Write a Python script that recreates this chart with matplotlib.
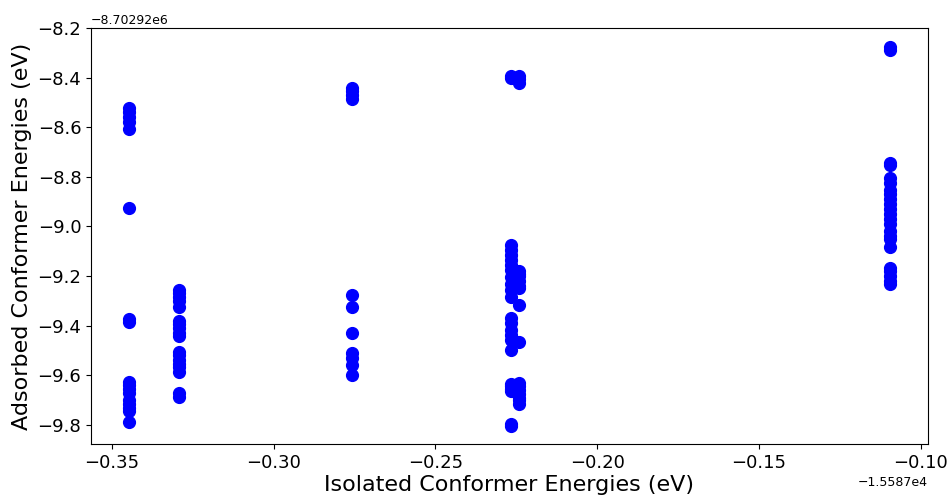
import numpy as np
import matplotlib.pyplot as plt

# isolated energy offset and adsorbed energy offset (eV)
x_base = -15587.0
y_base = -8702920.0

# isolated conformer energies (relative to offset) per group
x_groups = [-0.3447, -0.3292, -0.2757, -0.2266, -0.2243, -0.1096]

# adsorbed conformer energies (relative to offset) per group
y_groups = [
    [-8.524, -8.54, -8.56, -8.58, -8.608, -8.927, -9.372, -9.387,
     -9.626, -9.64, -9.655, -9.67, -9.70, -9.715, -9.73, -9.745, -9.79],
    [-9.256, -9.27, -9.285, -9.30, -9.324, -9.383, -9.395, -9.41, -9.431,
     -9.44, -9.505, -9.52, -9.539, -9.555, -9.566, -9.586, -9.673, -9.688],
    [-8.443, -8.455, -8.47, -8.485, -9.277, -9.324, -9.431, -9.512,
     -9.53, -9.559, -9.599],
    [-8.395, -8.40, -9.075, -9.095, -9.116, -9.135, -9.156, -9.176,
     -9.203, -9.23, -9.256, -9.283, -9.371, -9.391, -9.418, -9.438,
     -9.458, -9.498, -9.635, -9.645, -9.655, -9.665, -9.795, -9.805],
    [-8.392, -8.405, -8.423, -9.18, -9.19, -9.20, -9.22, -9.24, -9.25,
     -9.317, -9.465, -9.63, -9.645, -9.66, -9.675, -9.69, -9.70, -9.715],
    [-8.278, -8.29, -8.743, -8.752, -8.806, -8.826, -8.853, -8.87, -8.89,
     -8.91, -8.93, -8.95, -8.97, -8.99, -9.02, -9.04, -9.05, -9.082,
     -9.169, -9.18, -9.20, -9.22, -9.23],
]

xs = []
ys = []
for xg, yg in zip(x_groups, y_groups):
    for yv in yg:
        xs.append(x_base + xg)
        ys.append(y_base + yv)
xs = np.array(xs)
ys = np.array(ys)

fig = plt.figure(figsize=(9.48, 4.95), dpi=100)
ax = fig.add_axes([0.096, 0.103, 0.8826, 0.8404])
ax.scatter(xs, ys, s=72, color="blue")
ax.set_ylim(y_base - 9.877, y_base - 8.2)
ax.set_xlabel("Isolated Conformer Energies (eV)", fontsize=16, labelpad=2)
ax.set_ylabel("Adsorbed Conformer Energies (eV)", fontsize=16)
ax.tick_params(labelsize=13)
ax.xaxis.get_offset_text().set_fontsize(9)
ax.yaxis.get_offset_text().set_fontsize(9)
fig.savefig("out.png", dpi=100)
